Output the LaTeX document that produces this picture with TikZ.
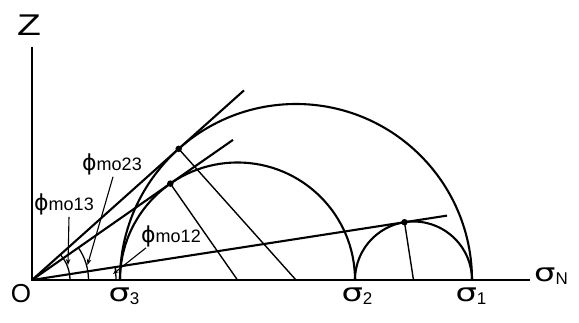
\documentclass[tikz,border=0pt]{standalone}
\usepackage{fontspec}
\setmainfont{DejaVu Sans}
\newfontfamily\labfont{Liberation Sans}
\usetikzlibrary{arrows.meta,calc}
\newcommand\philab[1]{{\fontsize{22}{22}\selectfont ϕ}{\labfont\fontsize{18}{18}\selectfont #1}}
\newcommand\siglab[1]{\scalebox{1.35}[1]{\fontsize{25}{25}\selectfont σ}\raisebox{-3pt}{\labfont\fontsize{17}{17}\selectfont #1}}
\begin{document}
\begin{tikzpicture}[x=1pt,y=1pt,
  axisline/.style={line width=2.2pt},
  circ/.style={line width=2.1pt},
  tangent/.style={line width=2.1pt},
  normal/.style={line width=1.4pt},
  arcline/.style={line width=1.3pt},
  leader/.style={line width=1.1pt,-{Stealth[length=6pt,width=4.5pt]}},
  dot/.style={circle,fill=black,inner sep=0pt,minimum size=6.5pt},
  lbl/.style={inner sep=0pt}]
\useasboundingbox (-32,-42) rectangle (547,280);
% axes
\coordinate (O) at (0,0);
\coordinate (ztop) at (0,233);
\coordinate (xend) at (498,0);
\coordinate (s3) at (88,0);
\coordinate (s2) at (323,0);
\coordinate (s1) at (440,0);
\coordinate (c1) at (264,0);
\coordinate (c2) at (205.5,0);
\coordinate (c3) at (381.5,0);
\draw[axisline] (ztop) -- (O) -- (xend);
% Mohr circles
\draw[circ] (s1) arc[start angle=0,end angle=180,radius=176];
\draw[circ] (s2) arc[start angle=0,end angle=180,radius=117.5];
\draw[circ] (s1) arc[start angle=0,end angle=180,radius=58.5];
% tangent lines
\coordinate (e1) at (41.81:284.4);
\coordinate (e2) at (34.88:245);
\coordinate (e3) at (8.82:420);
\draw[tangent] (O) -- (e1);
\draw[tangent] (O) -- (e2);
\draw[tangent] (O) -- (e3);
% tangent points and normals
\node[dot] (t1) at (41.81:196.77) {};
\node[dot] (t2) at (34.88:168.60) {};
\node[dot] (t3) at (8.82:376.99) {};
\draw[normal] (t1.center) -- (c1);
\draw[normal] (t2.center) -- (c2);
\draw[normal] (t3.center) -- (c3);
% angle arcs
\draw[arcline] (38,0) arc[start angle=0,end angle=41.81,radius=38];
\draw[arcline] (56.5,0) arc[start angle=0,end angle=34.88,radius=56.5];
\draw[arcline] (84,0) arc[start angle=0,end angle=8.82,radius=84];
% labels
\node[lbl] (zl) at (-3,255) {\labfont\fontsize{30}{30}\selectfont\scalebox{1.3}[1]{Z}};
\node[lbl] (ol) at (-11,-14) {\labfont\fontsize{26}{26}\selectfont O};
\node[lbl] (l3) at (92,-16) {\siglab{3}};
\node[lbl] (l2) at (325,-16) {\siglab{2}};
\node[lbl] (l1) at (439,-16) {\siglab{1}};
\node[lbl] (lN) at (519,4) {\siglab{N}};
\node[lbl] (p13) at (32,76) {\philab{mo13}};
\node[lbl] (p23) at (80,116) {\philab{mo23}};
\node[lbl] (p12) at (139,44) {\philab{mo12}};
% leaders
\coordinate (a13) at (36,15);
\coordinate (a23) at (55.5,15);
\coordinate (a12) at (81,6);
\draw[leader] ([xshift=5pt,yshift=-2pt]p13.south) -- (a13);
\draw[leader] ([xshift=1pt,yshift=-2pt]p23.south) -- (a23);
\draw[leader] ([xshift=-25pt,yshift=-1pt]p12.south) -- (a12);
\end{tikzpicture}
\end{document}
